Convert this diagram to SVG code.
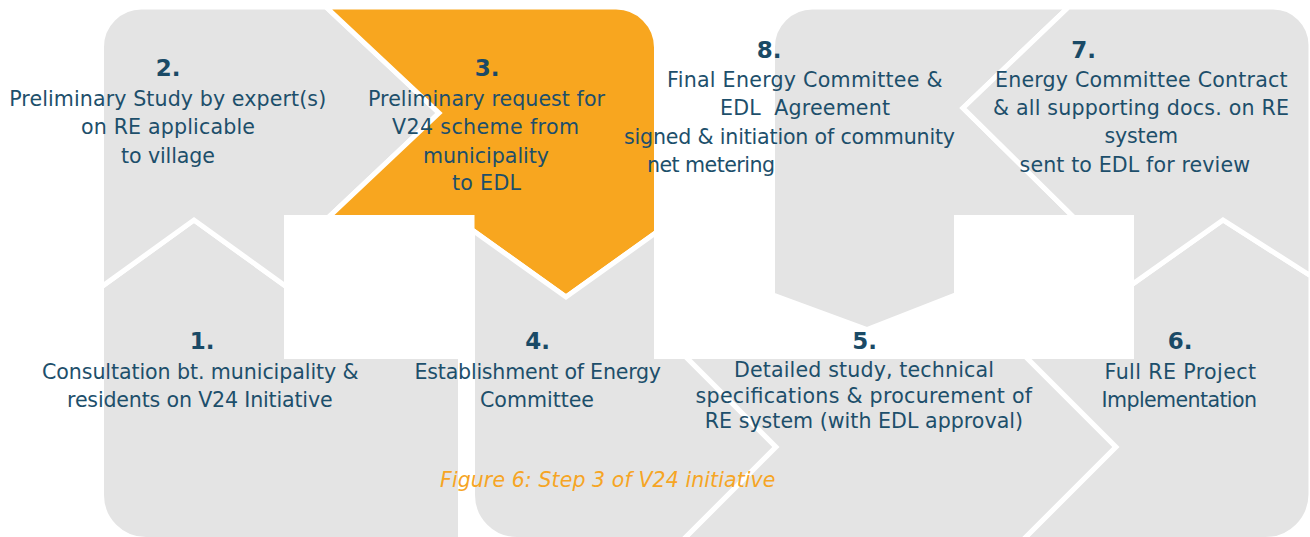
<svg xmlns="http://www.w3.org/2000/svg" width="1310" height="537" viewBox="0 0 1310 537">
  <style>
    .step{fill:#e4e4e4;stroke:#ffffff;stroke-width:5;stroke-linejoin:miter}
    .current{fill:#f8a61f}
    .num{font-family:"DejaVu Sans",Verdana,sans-serif;font-weight:bold;font-size:23px;fill:#1a4a66;text-anchor:middle}
    .txt{font-family:"DejaVu Sans",Verdana,sans-serif;font-size:20.6px;fill:#1d4f6b;text-anchor:middle}
    .cap{font-family:"DejaVu Sans",Verdana,sans-serif;font-style:italic;font-size:20.5px;fill:#f6a524;text-anchor:middle}
  </style>

  <!-- step 1: bottom-left, points up -->
  <g id="step-1">
    <path class="step" d="M101.5,286.8 L194,220 L286.5,286.8 L286.5,356.5 L460.5,356.5 L460.5,539.5 L146,539.5 A44.5,44.5 0 0 1 101.5,495 Z"/>
    <text class="num" x="202" y="349">1.</text>
    <text class="txt" x="200.3" y="379" textLength="316.6" lengthAdjust="spacing">Consultation bt. municipality &amp;</text>
    <text class="txt" x="199.8" y="407" textLength="265.5" lengthAdjust="spacing">residents on V24 Initiative</text>
  </g>

  <!-- step 2: top-left, points right -->
  <g id="step-2">
    <path class="step" d="M101.5,286.8 L101.5,47 A40,40 0 0 1 141.5,7 L326,7 L439,113 L328.3,217.5 L286.5,217.5 L286.5,286.8 L194,220 Z"/>
    <text class="num" x="168" y="76">2.</text>
    <text class="txt" x="167.7" y="106" textLength="317" lengthAdjust="spacing">Preliminary Study by expert(s)</text>
    <text class="txt" x="168" y="134" textLength="174" lengthAdjust="spacing">on RE applicable</text>
    <text class="txt" x="168" y="162.5" textLength="94" lengthAdjust="spacing">to village</text>
  </g>

  <!-- step 3: current step, points down -->
  <g id="step-3">
    <path class="step current" d="M326,7 L616,7 A40.5,40.5 0 0 1 656.5,47.5 L656.5,232.3 L566,297 L472,229.9 L472,217.5 L328.3,217.5 L439,113 Z"/>
    <text class="num" x="487" y="76">3.</text>
    <text class="txt" x="486.5" y="106" textLength="237" lengthAdjust="spacing">Preliminary request for</text>
    <text class="txt" x="485.5" y="134" textLength="187" lengthAdjust="spacing">V24 scheme from</text>
    <text class="txt" x="486" y="162.5" textLength="126" lengthAdjust="spacing">municipality</text>
    <text class="txt" x="486.5" y="190" textLength="69" lengthAdjust="spacing">to EDL</text>
  </g>

  <!-- step 4: bottom, points right -->
  <g id="step-4">
    <path class="step" d="M472.5,230.2 L566,297 L656.5,232.3 L656.5,356.5 L685.5,356.5 L776,447 L683.5,539.5 L517,539.5 A44.5,44.5 0 0 1 472.5,495 Z"/>
    <text class="num" x="537.5" y="349">4.</text>
    <text class="txt" x="537.8" y="379" textLength="246.5" lengthAdjust="spacing">Establishment of Energy</text>
    <text class="txt" x="537" y="407" textLength="114" lengthAdjust="spacing">Committee</text>
  </g>

  <!-- step 5: bottom, points right -->
  <g id="step-5">
    <path class="step" d="M685.5,356.5 L1025.5,356.5 L1116,447 L1023.5,539.5 L683.5,539.5 L776,447 Z"/>
    <text class="num" x="864.5" y="349">5.</text>
    <text class="txt" x="864" y="377" textLength="260" lengthAdjust="spacing">Detailed study, technical</text>
    <text class="txt" x="863.8" y="402.5" textLength="336.5" lengthAdjust="spacing">specifications &amp; procurement of</text>
    <text class="txt" x="863.9" y="428" textLength="318.3" lengthAdjust="spacing">RE system (with EDL approval)</text>
  </g>

  <!-- step 6: bottom-right, points up -->
  <g id="step-6">
    <path class="step" d="M1025.5,356.5 L1131.5,356.5 L1131.5,284.8 L1223,220 L1311,276 L1311,494 A45.5,45.5 0 0 1 1265.5,539.5 L1023.5,539.5 L1116,447 Z"/>
    <text class="num" x="1180" y="349">6.</text>
    <text class="txt" x="1180.3" y="379" textLength="151.5" lengthAdjust="spacing">Full RE Project</text>
    <text class="txt" x="1179.3" y="407" textLength="155.4" lengthAdjust="spacing">Implementation</text>
  </g>

  <!-- step 8: top, points down (painted before step 7 so step 7's label sits on top) -->
  <g id="step-8">
    <path class="step" d="M772.5,294.8 L772.5,47 A40,40 0 0 1 812.5,7 L1068.6,7 L963,108 L1074,217.5 L956.5,217.5 L956.5,294.7 L867,329.7 Z"/>
    <text class="num" x="769" y="58.3">8.</text>
    <text class="txt" x="804.8" y="87.3" textLength="275.5" lengthAdjust="spacing">Final Energy Committee &amp;</text>
    <text class="txt" x="805" y="115" textLength="170" lengthAdjust="spacing">EDL&#160;&#160;Agreement</text>
    <text class="txt" x="789.5" y="144" textLength="331" lengthAdjust="spacing">signed &amp; initiation of community</text>
    <text class="txt" x="711" y="171.7" textLength="128" lengthAdjust="spacing">net metering</text>
  </g>

  <!-- step 7: top-right, points left -->
  <g id="step-7">
    <path class="step" d="M1068.6,7 L1273,7 A38,38 0 0 1 1311,45 L1311,276 L1223,220 L1131.5,284.8 L1131.5,217.5 L1074,217.5 L963,108 Z"/>
    <text class="num" x="1083.5" y="58.3">7.</text>
    <text class="txt" x="1141.3" y="87.3" textLength="292.6" lengthAdjust="spacing">Energy Committee Contract</text>
    <text class="txt" x="1141" y="115" textLength="296" lengthAdjust="spacing">&amp; all supporting docs. on RE</text>
    <text class="txt" x="1141.2" y="143.3" textLength="73.5" lengthAdjust="spacing">system</text>
    <text class="txt" x="1134.8" y="171.7" textLength="230.5" lengthAdjust="spacing">sent to EDL for review</text>
  </g>

  <g id="caption">
    <text class="cap" x="607.7" y="487" textLength="335.4" lengthAdjust="spacing">Figure 6: Step 3 of V24 initiative</text>
  </g>
</svg>
